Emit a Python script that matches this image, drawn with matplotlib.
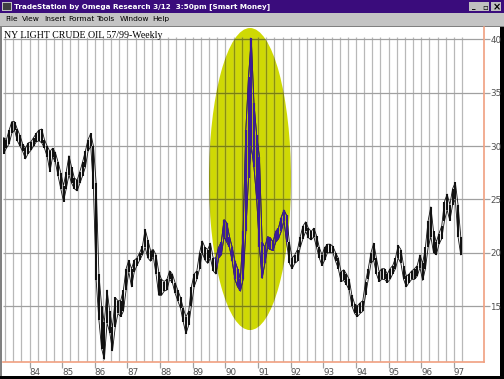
import matplotlib.pyplot as plt
from matplotlib.patches import Ellipse, Rectangle

first_year = 1983
first_month = 3  # data starts March 1983

lows = [
    # 1983 Mar-Dec
    29.3, 29.8, 30.2, 31.2, 31.5, 30.5, 30.0, 29.5, 28.8, 29.3,
    # 1984
    29.6, 30.0, 30.4, 30.5, 30.3, 29.8, 29.0, 27.6, 29.0, 28.5, 27.2, 26.0,
    # 1985
    24.8, 26.0, 27.3, 26.5, 26.0, 25.8, 26.5, 27.2, 28.0, 29.5, 30.0, 26.0,
    # 1986
    17.4, 13.7, 11.0, 10.0, 13.4, 12.5, 10.8, 13.0, 14.3, 14.0, 14.5, 16.5,
    # 1987
    18.2, 16.8, 18.2, 18.8, 19.3, 19.8, 20.5, 19.5, 19.2, 19.6, 18.0, 16.0,
    # 1988
    16.0, 16.4, 16.5, 17.5, 17.2, 16.2, 15.5, 14.8, 13.5, 12.4, 13.2, 15.0,
    # 1989
    16.8, 17.5, 18.5, 20.0, 19.3, 19.0, 19.5, 18.3, 18.0, 19.5, 19.8, 21.5,
    # 1990
    21.0, 20.5, 19.2, 17.5, 16.8, 16.4, 17.5, 22.0, 27.0, 30.0, 28.0, 25.0,
    # 1991
    20.5, 17.6, 19.0, 20.5, 20.3, 20.2, 21.0, 21.3, 22.0, 23.0, 21.0, 19.0,
    # 1992
    18.5, 19.0, 19.2, 20.5, 21.3, 22.0, 21.4, 21.2, 21.5, 20.5, 19.5, 18.8,
    # 1993
    19.3, 20.0, 20.0, 20.0, 19.2, 18.5, 17.3, 17.4, 17.0, 16.5, 15.0, 14.3,
    # 1994
    14.0, 14.3, 14.5, 16.0, 17.5, 19.0, 19.3, 18.0, 17.3, 17.5, 17.5, 17.2,
    # 1995
    17.5, 18.0, 18.5, 19.5, 19.0, 17.5, 16.8, 17.2, 17.5, 17.5, 17.8, 18.6,
    # 1996
    17.4, 18.5, 20.5, 21.5, 20.0, 19.8, 20.8, 21.3, 23.0, 24.0, 23.0, 24.5,
    # 1997 Jan-Mar
    25.0, 21.5, 19.8,
]

highs = [
    # 1983 Mar-Dec
    30.8, 30.6, 31.5, 32.3, 32.3, 31.6, 31.0, 30.2, 29.8, 30.3,
    # 1984
    30.4, 30.8, 31.2, 31.5, 31.6, 30.6, 30.0, 29.5, 29.8, 29.4, 28.5, 27.5,
    # 1985
    26.3, 27.6, 29.1, 28.0, 27.0, 26.8, 27.6, 28.5, 29.5, 30.6, 31.2, 30.0,
    # 1986
    26.5, 18.0, 15.0, 13.5, 16.5, 14.5, 13.0, 15.8, 15.5, 15.5, 16.5, 18.5,
    # 1987
    19.3, 18.5, 19.3, 19.5, 20.0, 20.6, 22.2, 21.2, 20.2, 20.3, 19.8, 18.2,
    # 1988
    17.5, 17.3, 17.5, 18.3, 18.0, 17.2, 16.5, 15.8, 14.8, 14.0, 14.5, 16.8,
    # 1989
    18.0, 18.3, 20.0, 21.1, 20.5, 20.3, 20.9, 19.5, 19.5, 20.5, 21.0, 23.1,
    # 1990
    22.8, 21.5, 20.5, 19.2, 18.5, 17.5, 22.0, 31.5, 36.5, 40.1, 34.0, 31.0,
    # 1991
    29.0, 21.0, 20.5, 21.5, 21.4, 21.0, 22.0, 22.3, 23.3, 24.0, 23.5, 21.0,
    # 1992
    19.5, 19.8, 20.3, 21.5, 22.5, 22.9, 22.3, 22.0, 22.3, 21.6, 20.5, 19.8,
    # 1993
    20.5, 20.8, 20.8, 20.6, 20.0, 19.5, 18.2, 18.4, 18.0, 17.5, 16.0, 15.2,
    # 1994
    15.0, 15.3, 15.5, 17.3, 18.5, 20.0, 20.9, 19.5, 18.2, 18.5, 18.5, 18.0,
    # 1995
    18.5, 18.8, 19.5, 20.7, 20.3, 18.8, 17.8, 18.0, 18.3, 18.5, 18.8, 19.8,
    # 1996
    19.0, 20.5, 23.0, 24.3, 22.0, 21.0, 21.8, 22.5, 24.8, 25.5, 24.5, 26.0,
    # 1997 Jan-Mar
    26.6, 24.5, 21.5,
]

price_levels = [15, 20, 25, 30, 35, 40]
year_ticks = list(range(1984, 1998))
year_labels = [str(y)[2:] for y in year_ticks]

dates = [first_year + (first_month - 1 + i + 0.5) / 12 for i in range(len(lows))]

W, H = 504, 379
fig = plt.figure(figsize=(W / 100, H / 100), dpi=100)
fig.patch.set_facecolor('#c0c0c0')


def px_rect(x, y, w, h, color, z=-10):
    # rectangle given in screen pixels (top-left origin), kept behind the axes
    fig.patches.append(Rectangle((x / W, 1 - (y + h) / H), w / W, h / H,
                                 transform=fig.transFigure, facecolor=color,
                                 edgecolor='none', zorder=z))


# window chrome
px_rect(0, 0, W, 13, '#3a0c7c')
px_rect(2, 2, 10, 9, '#c0c0c0', -9)
px_rect(3, 3, 8, 7, '#404040', -8)
for bx in (469, 479, 491):
    px_rect(bx, 2, 10, 9, '#c0c0c0', -9)
px_rect(0, 13, W, 13, '#c4c4c4')
px_rect(0, 26, W, 1, '#808080')
px_rect(2, 27, 498, 349, 'white')
px_rect(500, 27, 4, 352, '#000000')
px_rect(0, 376, W, 3, '#000000')
px_rect(0, 27, 2, 349, '#808080')

fig.text(14 / W, 1 - 7 / H, 'TradeStation by Omega Research 3/12  3:50pm [Smart Money]',
         color='white', fontsize=5.2, fontweight='bold', va='center',
         family='Liberation Sans Narrow')
fig.text(472 / W, 1 - 7 / H, '_', fontsize=5, va='center', color='black', fontweight='bold')
fig.text(482 / W, 1 - 7 / H, '▫', fontsize=6, va='center', color='black')
fig.text(493 / W, 1 - 7 / H, '×', fontsize=7, va='center', color='black', fontweight='bold')

menu = ['File', 'View', 'Insert', 'Format', 'Tools', 'Window', 'Help']
menu_x = [5, 22, 44, 68, 96, 120, 152]
for name, mx in zip(menu, menu_x):
    fig.text(mx / W, 1 - 19 / H, name, fontsize=5.4, va='center', color='black')

# chart area
ax = fig.add_axes([3 / W, 1 - 362 / H, 481 / W, 335 / H])
ax.set_xlim(1983.188, 1997.92)
ax.set_ylim(9.75, 41.17)
ax.set_facecolor('none')

oval = Ellipse((1990.753, 26.91), 2.511, 28.33, facecolor='#cfd904',
               edgecolor='none', zorder=1)
ax.add_patch(oval)

# quarterly verticals and price level lines
quarters = [1983.25 + 0.25 * q for q in range(57)]
ax.vlines(quarters, 9.75, 40.25, color='#b8b8b8', lw=0.9, zorder=2)
ax.hlines(price_levels, 1983.188, 1997.92, color='#a0a0a0', lw=0.9, zorder=2)
vq = ax.vlines(quarters, 9.75, 40.25, color='#8a9010', lw=0.9, zorder=3)
hq = ax.hlines(price_levels, 1983.188, 1997.92, color='#7a8010', lw=0.9, zorder=3)
vq.set_clip_path(oval)
hq.set_clip_path(oval)

# price bars
ax.vlines(dates, lows, highs, color='#111111', lw=1.5, zorder=4)
ax.plot(dates, lows, color='#111111', lw=0.6, zorder=4)
ax.plot(dates, highs, color='#111111', lw=0.6, zorder=4)
pb = ax.vlines(dates, lows, highs, color='#3c1c98', lw=1.5, zorder=5)
pl1, = ax.plot(dates, lows, color='#3c1c98', lw=0.6, zorder=5)
pl2, = ax.plot(dates, highs, color='#3c1c98', lw=0.6, zorder=5)
for art in (pb, pl1, pl2):
    art.set_clip_path(oval)

ax.text(0.003, 0.988, 'NY LIGHT CRUDE OIL 57/99-Weekly', transform=ax.transAxes,
        family='Liberation Serif', fontsize=7.1, va='top', ha='left', color='black')

for side in ('top', 'left'):
    ax.spines[side].set_visible(False)
ax.spines['right'].set_color('#f0a080')
ax.spines['bottom'].set_color('#f0a080')
ax.spines['right'].set_linewidth(1.2)
ax.spines['bottom'].set_linewidth(1.2)

ax.yaxis.tick_right()
ax.set_yticks(price_levels)
ax.set_yticklabels([str(p) for p in price_levels])
ax.tick_params(axis='y', length=4, width=0.9, color='#a0a0a0', pad=0.5,
               labelsize=6.3, labelcolor='#505050')
ax.set_xticks(year_ticks)
ax.set_xticklabels(year_labels, ha='left')
ax.tick_params(axis='x', length=4, width=0.9, color='#a0a0a0', pad=0,
               labelsize=6.3, labelcolor='#505050')

fig.savefig('out.png', dpi=100, facecolor=fig.get_facecolor())
